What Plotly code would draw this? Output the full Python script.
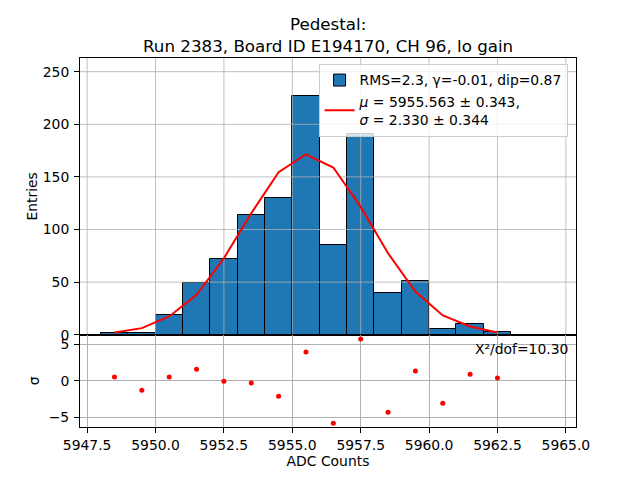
import plotly.graph_objects as go
from plotly.subplots import make_subplots

# ---- data ----
bin_centers = [5948.5, 5949.5, 5950.5, 5951.5, 5952.5, 5953.5, 5954.5, 5955.5,
               5956.5, 5957.5, 5958.5, 5959.5, 5960.5, 5961.5, 5962.5]
counts = [2, 2, 19, 49, 72, 114, 130, 227, 85, 191, 40, 51, 5, 10, 3]
fit_values = [2.2, 6.3, 17.4, 37.9, 72.7, 115.5, 154.5, 171.5, 158.9, 121.5,
              77.4, 41.0, 18.3, 7.9, 2.2]
residuals = [0.51, -1.29, 0.51, 1.61, -0.05, -0.32, -2.12, 3.96, -5.85, 5.76,
             -4.33, 1.34, -3.09, 0.92, 0.37]
x_ticks = [5947.5, 5950.0, 5952.5, 5955.0, 5957.5, 5960.0, 5962.5, 5965.0]
y_ticks_top = [0, 50, 100, 150, 200, 250]
y_ticks_bot = [-5, 0, 5]

title_text = "Pedestal:<br>Run 2383, Board ID E194170, CH 96, lo gain"
hist_label = "RMS=2.3, γ=-0.01, dip=0.87"
fit_label = "<i>μ</i> = 5955.563 ± 0.343,<br><i>σ</i> = 2.330 ± 0.344"
chi2_text = "X²/dof=10.30"

x_range = [5947.24, 5965.37]
y_range_top = [0, 263]
y_range_bot = [-6.37, 6.35]

FONT = "DejaVu Sans"
GRID = "#b0b0b0"

fig = make_subplots(rows=2, cols=1, shared_xaxes=True,
                    row_heights=[0.75, 0.25], vertical_spacing=0)

# grid lines for the upper panel drawn above the bars (matplotlib style)
gx, gy = [], []
for t in x_ticks:
    gx += [t, t, None]
    gy += [y_range_top[0], y_range_top[1], None]
for t in y_ticks_top:
    gx += [x_range[0], x_range[1], None]
    gy += [t, t, None]

fig.add_trace(go.Bar(x=bin_centers, y=counts, width=1.0,
                     marker=dict(color="#1f77b4", line=dict(color="black", width=1)),
                     name=hist_label), row=1, col=1)
fig.add_trace(go.Scatter(x=gx, y=gy, mode="lines", line=dict(color=GRID, width=0.8),
                         showlegend=False, hoverinfo="skip"), row=1, col=1)
fig.add_trace(go.Scatter(x=bin_centers, y=fit_values, mode="lines",
                         line=dict(color="red", width=2), name=fit_label), row=1, col=1)
fig.add_trace(go.Scatter(x=bin_centers, y=residuals, mode="markers",
                         marker=dict(color="red", size=5), showlegend=False), row=2, col=1)

axis_common = dict(showline=True, linecolor="black", linewidth=1, mirror=True,
                   zeroline=False, automargin=False,
                   tickfont=dict(family=FONT, size=13.9, color="black"))

fig.update_xaxes(range=x_range, tickvals=x_ticks, **axis_common)
fig.update_xaxes(showgrid=False, ticks="", showticklabels=False, row=1, col=1)
fig.update_xaxes(showgrid=True, gridcolor=GRID, gridwidth=0.8, ticks="outside",
                 ticklen=5, tickcolor="black",
                 ticktext=[f"{t:.1f}" for t in x_ticks],
                 title=dict(text="ADC Counts", font=dict(family=FONT, size=13.9, color="black"),
                            standoff=4),
                 row=2, col=1)
fig.update_yaxes(range=y_range_top, tickvals=y_ticks_top, showgrid=False,
                 ticks="outside", ticklen=5, tickcolor="black", ticklabelstandoff=2,
                 title=dict(text="Entries", font=dict(family=FONT, size=13.9, color="black"),
                            standoff=1),
                 row=1, col=1, **axis_common)
fig.update_yaxes(range=y_range_bot, tickvals=y_ticks_bot, showgrid=True,
                 gridcolor=GRID, gridwidth=0.8,
                 ticks="outside", ticklen=5, tickcolor="black", ticklabelstandoff=2,
                 title=dict(text="σ", font=dict(family=FONT, size=13.9, color="black"),
                            standoff=5),
                 row=2, col=1, **axis_common)

fig.add_annotation(text=title_text, xref="paper", yref="paper", x=0.5, y=1,
                   yanchor="bottom", xanchor="center", yshift=0, showarrow=False,
                   font=dict(family=FONT, size=16.7, color="black"))
fig.add_annotation(text=chi2_text, xref="x2 domain", yref="y2 domain", x=0.988, y=0.95,
                   xanchor="right", yanchor="top", showarrow=False,
                   font=dict(family=FONT, size=13.9, color="black"))

# page body adds an 8px offset; margins compensate so the plot area sits at
# x 80..576 and y 57.6..427.2 in the 640x480 window
fig.update_layout(
    width=640, height=480,
    margin=dict(l=72, r=72, t=49.6, b=60.8, autoexpand=False),
    paper_bgcolor="white", plot_bgcolor="white",
    bargap=0,
    legend=dict(x=0.983, y=0.985, xanchor="right", yanchor="top",
                bgcolor="rgba(255,255,255,0.8)", bordercolor="#cccccc", borderwidth=1,
                font=dict(family=FONT, size=13.9, color="black"),
                tracegroupgap=0),
    font=dict(family=FONT, color="black"),
    showlegend=True,
)

fig.write_html("out.html")
